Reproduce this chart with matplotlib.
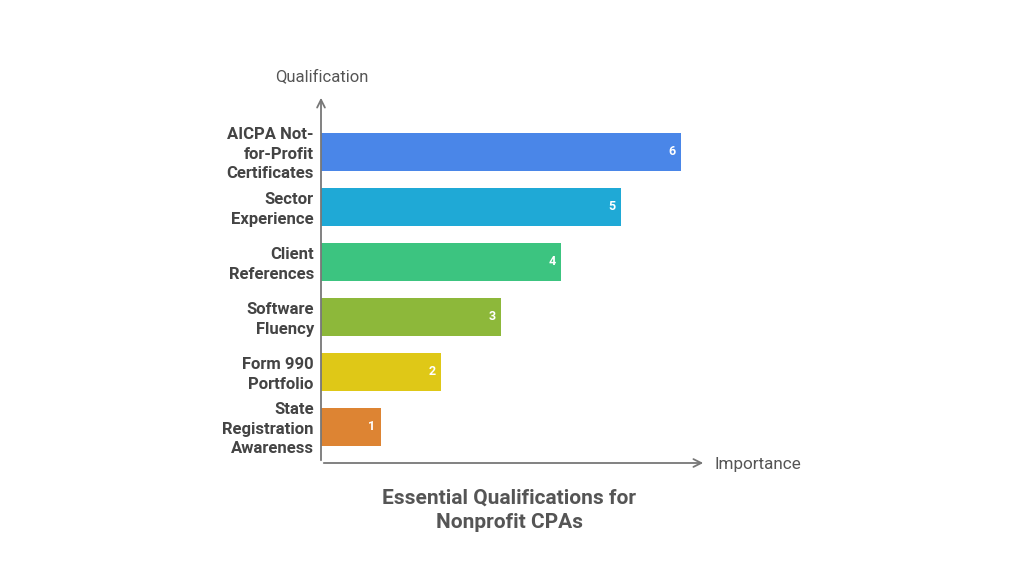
import matplotlib.pyplot as plt

plt.rcParams['font.family'] = ['Roboto', 'DejaVu Sans']

# data, bottom to top
labels = ["State\nRegistration\nAwareness", "Form 990\nPortfolio", "Software\nFluency",
          "Client\nReferences", "Sector\nExperience", "AICPA Not-\nfor-Profit\nCertificates"]
values = [1, 2, 3, 4, 5, 6]
colors = ["#dd8433", "#dfc817", "#8db83a", "#3cc480", "#1fa9d6", "#4a86e8"]

W, H = 1024, 576
fig = plt.figure(figsize=(W / 100, H / 100), dpi=100)
x0, y0 = 321, 463
ax = fig.add_axes([x0 / W, (H - y0) / H, (706 - x0) / W, (y0 - 95) / H])

pos = list(range(len(values)))
ax.barh(pos, values, height=0.68, color=colors)
for p, v in zip(pos, values):
    ax.text(v - 0.15, p, str(v), color="white", fontsize=9, fontweight="bold",
            ha="center", va="center")
    ax.text(-0.12, p - 0.04, labels[p], color="#444444", fontsize=12, fontweight="bold",
            ha="right", va="center", linespacing=1.4)

ax.set_xlim(0, 385 / 60)
ax.set_ylim(-36 / 55, 6.69 - 36 / 55)
ax.axis("off")

# arrow axes
arrow = dict(arrowstyle="->", color="#777777", lw=1.3, mutation_scale=14)
ax.annotate("", xy=(1, 0), xytext=(0, 0), xycoords="axes fraction", arrowprops=arrow)
ax.annotate("", xy=(0, 1), xytext=(0, 0), xycoords="axes fraction", arrowprops=arrow)

fig.text(714 / W, 1 - 464 / H, "Importance", fontsize=12.3, color="#555555", va="center")
fig.text(322 / W, 1 - 77 / H, "Qualification", fontsize=12, color="#555555",
         va="center", ha="center")
fig.text(509 / W, 1 - 510 / H, "Essential Qualifications for\nNonprofit CPAs", fontsize=15,
         fontweight="bold", color="#555555", ha="center", va="center", linespacing=1.35)

fig.savefig("out.png", dpi=100)
